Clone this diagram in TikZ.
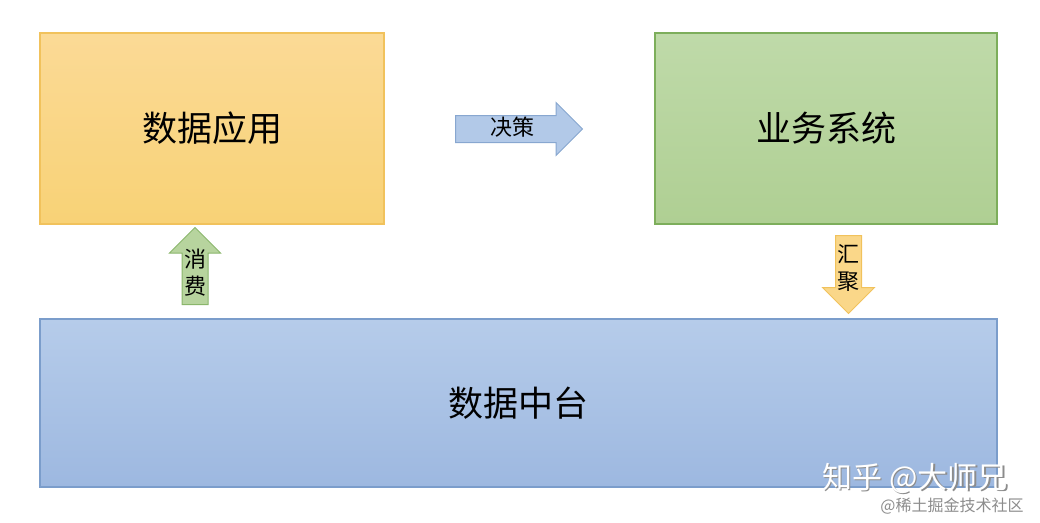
\documentclass[tikz,border=0pt]{standalone}
\usepackage{fontspec}
\setmainfont{Noto Sans CJK SC}
\usetikzlibrary{shapes.arrows}

\definecolor{apptop}{HTML}{FBDA96}
\definecolor{appbot}{HTML}{F8D276}
\definecolor{appline}{HTML}{F1C25C}
\definecolor{biztop}{HTML}{BFDAA9}
\definecolor{bizbot}{HTML}{AFCF93}
\definecolor{bizline}{HTML}{7DAE5B}
\definecolor{dptop}{HTML}{B6CCEA}
\definecolor{dpbot}{HTML}{9DB8E0}
\definecolor{dpline}{HTML}{7B9DCB}

\begin{document}
\begin{tikzpicture}[x=1pt,y=-1pt,
  box/.style={draw,line width=1.2pt,inner sep=0pt,font=\fontsize{35}{40}\selectfont},
  flow/.style={single arrow,draw,line width=1pt,single arrow tip angle=90,
    font=\fontsize{22}{27}\selectfont}]
  \useasboundingbox (0,0) rectangle (1040,522);
  % top row: application and business system
  \node[box,draw=appline,top color=apptop,bottom color=appbot,
    minimum width=344pt,minimum height=191pt] (app) at (212,128.5) {数据应用};
  \node[box,draw=bizline,top color=biztop,bottom color=bizbot,
    minimum width=342pt,minimum height=191pt] (biz) at (826,128.5) {业务系统};
  % bottom: the data middle platform
  \node[box,draw=dpline,top color=dptop,bottom color=dpbot,
    minimum width=957pt,minimum height=168pt] (dp) at (518.5,403) {数据中台};
  % block arrows between them
  \node[flow,draw=dpline!90,fill=dptop!85!dpbot,anchor=tail,
    minimum height=127pt,single arrow head extend=13pt,
    text height=16pt,text depth=4pt,inner ysep=3pt,inner xsep=2pt] (decide) at (455,129) {决策};
  \node[flow,draw=bizline!90,fill=biztop!50!bizbot,anchor=tail,shape border rotate=90,
    minimum height=77pt,single arrow head extend=12.5pt,align=center,
    inner xsep=1.5pt] (use) at (195,305) {消\\费};
  \node[flow,draw=appline,fill=apptop!60!appbot,anchor=tail,shape border rotate=270,
    minimum height=78pt,single arrow head extend=13pt,align=center,
    inner xsep=1.5pt] (gather) at (848.5,235) {汇\\聚};
  % watermarks
  \node[font=\fontsize{30}{32}\selectfont,text=black!45] (zhsh) at (916.5,479.5) {知乎 @大师兄};
  \node[font=\fontsize{30}{32}\selectfont,text=white] (zh) at (915,478) {知乎 @大师兄};
  \node[font=\fontsize{16}{18}\selectfont,text=black!45] (jj) at (952,506) {@稀土掘金技术社区};
\end{tikzpicture}
\end{document}
